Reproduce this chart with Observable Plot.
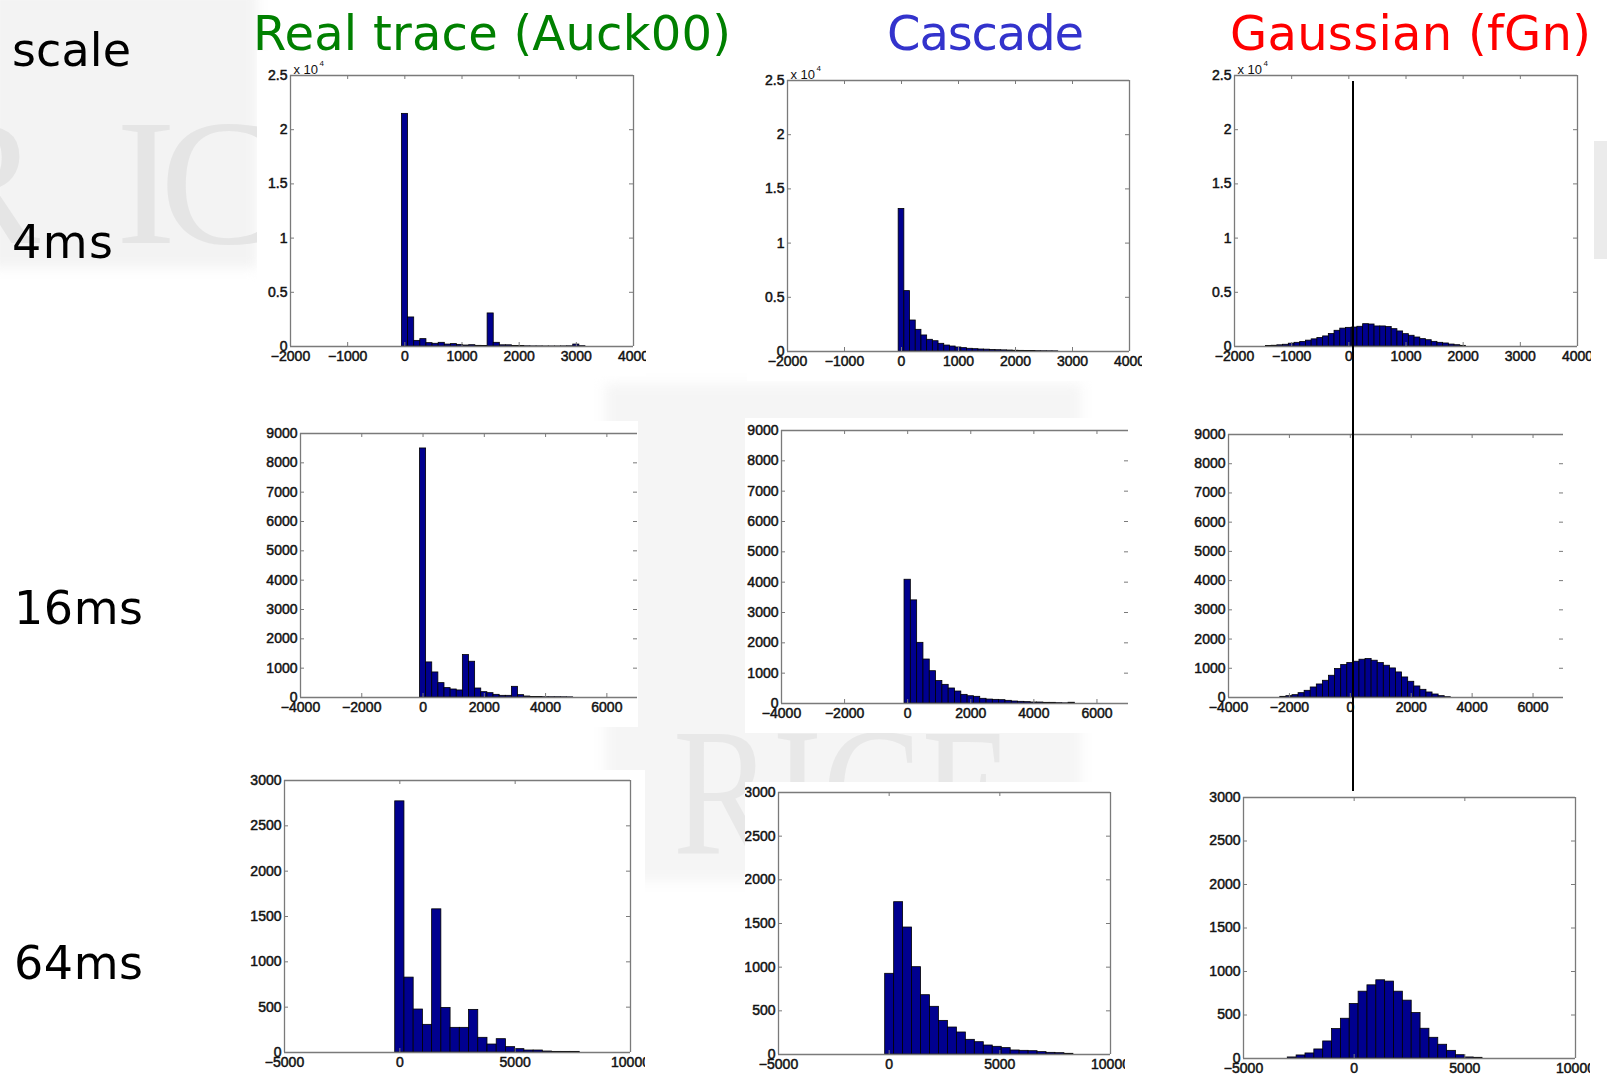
<!DOCTYPE html>
<html>
<head>
<meta charset="utf-8">
<script src="https://cdn.jsdelivr.net/npm/d3@7"></script>
<script src="https://cdn.jsdelivr.net/npm/@observablehq/plot@0.6"></script>
<style>
  html, body { margin: 0; padding: 0; background: #fff; }
  #page { position: relative; width: 1607px; height: 1077px; overflow: hidden; background: #fff; }
  .layer { position: absolute; left: 0; top: 0; pointer-events: none; }
  .panel { position: absolute; overflow: hidden; }
  .panel svg { max-width: none !important; display: block; }
  .panel svg g[aria-label$="tick label"] text { stroke: #151515; stroke-width: 0.5px; }
</style>
</head>
<body>
<div id="page"></div>
<script>
// ---------------- text ----------------
const cornerLabel = "scale";
const columnTitles = ["Real trace (Auck00)", "Cascade", "Gaussian (fGn)"];
const columnColors = ["#008000", "#3333cc", "#ff0000"];
const rowLabels = ["4ms", "16ms", "64ms"];

// ---------------- axes: domains and tick values ----------------
const xDomain4ms = [-2000, 4000];
const xDomain16ms = [-4000, 7000];
const xDomain64ms = [-5000, 10000];
const yDomain4ms = [0, 25000];
const yDomain16ms = [0, 9000];
const yDomain64ms = [0, 3000];
const xTicks4ms = [-2000, -1000, 0, 1000, 2000, 3000, 4000];
const xTicks16ms = [-4000, -2000, 0, 2000, 4000, 6000];
const xTicks64ms = [-5000, 0, 5000, 10000];
const yTicks4ms = [0, 5000, 10000, 15000, 20000, 25000];
const yTicks16ms = [0, 1000, 2000, 3000, 4000, 5000, 6000, 7000, 8000, 9000];
const yTicks64ms = [0, 500, 1000, 1500, 2000, 2500, 3000];
const yExponent4ms = 4; // "x 10^4"

// ---------------- histograms: [left edge of first bin, bin width] + counts ----------------
const real4msBins = [-50, 107];
const real4msCounts = [21460, 2680, 520, 680, 310, 250, 340, 180, 220, 150, 90, 120, 60, 40, 3050, 340, 110, 110, 50, 40, 20, 10, 10, 5, 5, 5, 10, 20, 180, 30];

const cascade4msBins = [-50, 100];
const cascade4msCounts = [13150, 5570, 2860, 2000, 1480, 1080, 950, 710, 550, 460, 370, 310, 250, 215, 185, 170, 140, 120, 105, 90, 70, 60, 50, 40, 30, 25, 20, 15];

const gauss4msBins = [-1450, 100];
const gauss4msCounts = [40, 70, 110, 160, 260, 340, 420, 540, 660, 790, 930, 1150, 1450, 1650, 1720, 1750, 1820, 2060, 2030, 1850, 1850, 1790, 1600, 1390, 1140, 990, 830, 680, 580, 430, 340, 280, 180, 120, 60];

const real16msBins = [-100, 200];
const real16msCounts = [8490, 1196, 854, 490, 320, 273, 240, 1446, 1219, 307, 182, 148, 91, 57, 57, 364, 80, 34, 20, 15, 10, 10, 10, 8, 5];

const cascade16msBins = [-100, 200];
const cascade16msCounts = [4080, 3400, 2000, 1450, 1065, 740, 615, 495, 395, 285, 240, 220, 155, 130, 120, 110, 88, 66, 55, 44, 33, 33, 22, 22, 11, 5, 25];

const gauss16msBins = [-2300, 200];
const gauss16msCounts = [23, 46, 80, 149, 229, 343, 446, 572, 744, 973, 1110, 1178, 1224, 1293, 1316, 1259, 1178, 1087, 995, 858, 686, 538, 378, 263, 172, 103, 46, 11];

const real64msBins = [-200, 400];
const real64msCounts = [2770, 826, 474, 305, 1579, 492, 272, 272, 470, 162, 88, 147, 59, 37, 22, 22, 11, 7, 7, 7];

const cascade64msBins = [-180, 405];
const cascade64msCounts = [924, 1744, 1454, 1000, 679, 546, 385, 309, 252, 168, 141, 103, 88, 73, 46, 42, 38, 27, 19, 15, 8];

const gauss64msBins = [-3000, 400];
const gauss64msCounts = [12, 35, 58, 104, 196, 338, 457, 626, 768, 841, 899, 884, 768, 665, 522, 342, 238, 158, 88, 38, 12, 8];

// ---------------- styling ----------------
const BAR = "#00008f";
const AXIS = "#7a7a7a";
const TICK_LEN = 4;
const LABEL_FONT = "'Liberation Sans', Arial, Helvetica, sans-serif";
const TITLE_FONT = "'DejaVu Sans', Verdana, sans-serif";

// panel placement (frame edges in page pixels)
const rows = [
  {xDomain: xDomain4ms, yDomain: yDomain4ms, xTicks: xTicks4ms, yTicks: yTicks4ms, exp: yExponent4ms, rightBorder: true},
  {xDomain: xDomain16ms, yDomain: yDomain16ms, xTicks: xTicks16ms, yTicks: yTicks16ms, exp: null, rightBorder: false},
  {xDomain: xDomain64ms, yDomain: yDomain64ms, xTicks: xTicks64ms, yTicks: yTicks64ms, exp: null, rightBorder: true}
];
const panels = [
  {row: 0, bins: real4msBins, counts: real4msCounts, L: 290, R: 633, T: 75, B: 346, mL: 33, mT: 24, clip: 13},
  {row: 0, bins: cascade4msBins, counts: cascade4msCounts, L: 787, R: 1129, T: 80, B: 351, mL: 40, mT: 24, clip: 13},
  {row: 0, bins: gauss4msBins, counts: gauss4msCounts, L: 1234, R: 1577, T: 75, B: 346, mL: 40, mT: 24, clip: 14},
  {row: 1, bins: real16msBins, counts: real16msCounts, L: 300, R: 637, T: 433, B: 697, mL: 40, mT: 12, clip: 0.5},
  {row: 1, bins: cascade16msBins, counts: cascade16msCounts, L: 781, R: 1128, T: 430, B: 703, mL: 36, mT: 12, clip: 0.5},
  {row: 1, bins: gauss16msBins, counts: gauss16msCounts, L: 1228, R: 1563, T: 434, B: 697, mL: 40, mT: 12, clip: 0.5},
  {row: 2, bins: real64msBins, counts: real64msCounts, L: 284, R: 630, T: 780, B: 1052, mL: 40, mT: 10, clip: 15},
  {row: 2, bins: cascade64msBins, counts: cascade64msCounts, L: 778, R: 1110, T: 792, B: 1054, mL: 33, mT: 10, clip: 15},
  {row: 2, bins: gauss64msBins, counts: gauss64msCounts, L: 1243, R: 1575, T: 797, B: 1058, mL: 40, mT: 10, clip: 15}
];

const page = document.getElementById("page");

// ---------------- background: faint slide logo watermark (raster, like the slide's picture) ----------------
const cv = document.createElement("canvas");
cv.width = 1607; cv.height = 1077; cv.className = "layer";
page.appendChild(cv);
const ctx = cv.getContext("2d");
ctx.save();
ctx.filter = "blur(6px)";
ctx.fillStyle = "#f3f3f3";
ctx.fillRect(-10, -10, 267, 278);
ctx.fillStyle = "#f5f5f5";
ctx.fillRect(605, 384, 476, 497);
ctx.restore();
ctx.font = "180px 'Liberation Serif', 'DejaVu Serif', serif";
ctx.fillStyle = "#e5e5e5";
ctx.textAlign = "end"; ctx.fillText("R", 40, 243);
ctx.textAlign = "center"; ctx.fillText("I", 146, 243);
ctx.textAlign = "start"; ctx.fillText("C", 160, 243);
ctx.fillStyle = "#ebebeb";
ctx.fillRect(1594, 141, 13, 118);
ctx.fillStyle = "#e8e8e8";
ctx.font = "183px 'Liberation Serif', 'DejaVu Serif', serif";
ctx.fillText("RICE", 673, 853, 340);

// ---------------- panels ----------------
const fmtX = d => d < 0 ? "\u2212" + Math.abs(d) : String(d);

panels.forEach(p => {
  const r = rows[p.row];
  const iw = p.R - p.L, ih = p.B - p.T;
  const mR = 30, mB = 30;
  const W = p.mL + iw + mR, H = p.mT + ih + mB;
  const [start, width] = p.bins;
  const bars = p.counts.map((c, i) => ({x1: start + i * width, x2: start + (i + 1) * width, y: c}));
  const fmtY = r.exp ? (d => d === 0 ? "0" : String(d / Math.pow(10, r.exp))) : (d => String(d));
  const line = {stroke: AXIS, strokeWidth: 1.3};
  const marks = [
    Plot.rectY(bars, {x1: "x1", x2: "x2", y: "y", fill: BAR, stroke: "#000", strokeWidth: 0.8}),
    Plot.ruleY([r.yDomain[0]], line),
    Plot.ruleY([r.yDomain[1]], line),
    Plot.ruleX([r.xDomain[0]], line),
    Plot.tickX(r.xTicks, {x: d => d, insetTop: ih - TICK_LEN, stroke: AXIS}),
    Plot.tickX(r.xTicks, {x: d => d, insetBottom: ih - TICK_LEN, stroke: AXIS}),
    Plot.tickY(r.yTicks, {y: d => d, insetRight: iw - TICK_LEN, stroke: AXIS}),
    Plot.tickY(r.yTicks, {y: d => d, insetLeft: iw - TICK_LEN, stroke: AXIS}),
    Plot.axisX(r.xTicks, {tickSize: 0, tickPadding: 5, tickFormat: fmtX, fontSize: 14, label: null}),
    Plot.axisY(r.yTicks, {tickSize: 0, tickPadding: 3, tickFormat: fmtY, fontSize: 14, label: null})
  ];
  if (r.rightBorder) marks.push(Plot.ruleX([r.xDomain[1]], line));
  if (r.exp) {
    marks.push(Plot.text(["x 10"], {frameAnchor: "top-left", dx: 3, dy: -2, textAnchor: "start", lineAnchor: "bottom", fontSize: 13, fill: "#111"}));
    marks.push(Plot.text([String(r.exp)], {frameAnchor: "top-left", dx: 29, dy: -10, textAnchor: "start", lineAnchor: "bottom", fontSize: 8, fill: "#111"}));
  }
  const chart = Plot.plot({
    width: W, height: H,
    marginLeft: p.mL, marginRight: mR, marginTop: p.mT, marginBottom: mB,
    x: {domain: r.xDomain, label: null},
    y: {domain: r.yDomain, label: null},
    style: {fontFamily: LABEL_FONT, fontSize: "14px", color: "#111", background: "white", maxWidth: "none", overflow: "visible"},
    marks
  });
  const div = document.createElement("div");
  div.className = "panel";
  div.style.left = (p.L - p.mL) + "px";
  div.style.top = (p.T - p.mT) + "px";
  div.style.width = (p.mL + iw + p.clip) + "px";
  div.style.height = H + "px";
  div.appendChild(chart);
  page.appendChild(div);
});

// ---------------- overlay: titles, row labels, annotation line ----------------
const ov = d3.select(page).append("svg").attr("class", "layer")
  .attr("width", 1607).attr("height", 1077);
ov.append("text").attr("x", 12).attr("y", 66).attr("font-family", TITLE_FONT).attr("font-size", 46)
  .attr("textLength", 119).attr("fill", "#000").text(cornerLabel);
const titlePos = [[253, 478], [887, 197], [1230, 361]];
columnTitles.forEach((t, i) => {
  ov.append("text").attr("x", titlePos[i][0]).attr("y", 50).attr("font-family", TITLE_FONT).attr("font-size", 48)
    .attr("textLength", titlePos[i][1]).attr("fill", columnColors[i]).text(t);
});
const rowPos = [[12, 258, 101], [14, 624, 129], [14, 979, 129]];
rowLabels.forEach((t, i) => {
  ov.append("text").attr("x", rowPos[i][0]).attr("y", rowPos[i][1]).attr("font-family", TITLE_FONT).attr("font-size", 46)
    .attr("textLength", rowPos[i][2]).attr("fill", "#000").text(t);
});
// vertical reference line drawn across the Gaussian column
ov.append("line").attr("x1", 1353).attr("x2", 1353).attr("y1", 81).attr("y2", 791)
  .attr("stroke", "#000").attr("stroke-width", 2);
</script>
</body>
</html>
